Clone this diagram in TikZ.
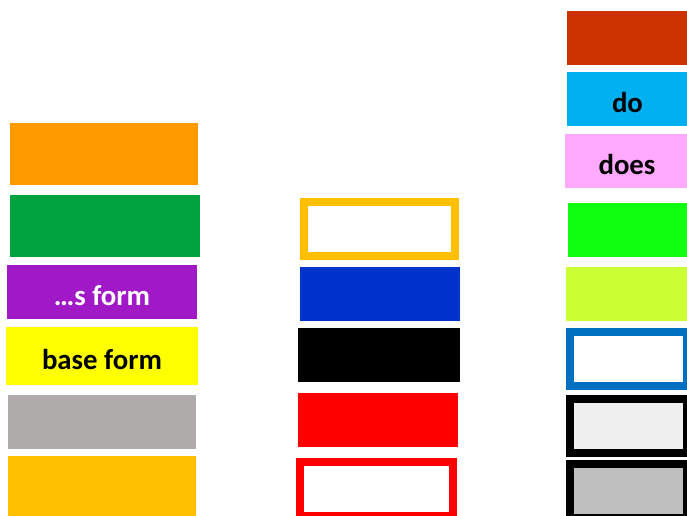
\documentclass[tikz,border=0pt]{standalone}
\usepackage{fontspec}
\setmainfont{Carlito}
\definecolor{cOrange}{HTML}{FF9900}
\definecolor{cGreen}{HTML}{00A33D}
\definecolor{cPurple}{HTML}{A118C6}
\definecolor{cYellow}{HTML}{FFFF00}
\definecolor{cGray}{HTML}{AFABAB}
\definecolor{cGold}{HTML}{FFC000}
\definecolor{cBlue}{HTML}{0033CC}
\definecolor{cRed}{HTML}{FF0000}
\definecolor{cRust}{HTML}{CC3300}
\definecolor{cCyan}{HTML}{00B0F0}
\definecolor{cPink}{HTML}{FFA9FF}
\definecolor{cLime}{HTML}{10FF10}
\definecolor{cChart}{HTML}{CCFF33}
\definecolor{cSteel}{HTML}{0070C0}
\definecolor{cLight}{HTML}{F0F0F0}
\definecolor{cSilver}{HTML}{BFBFBF}
\usepackage{tikz}

\begin{document}
\begin{tikzpicture}[x=0.75pt,y=-0.75pt,
      slab/.style={rectangle, inner sep=0pt, outer sep=0pt, draw=none,
                   text height=22pt, text depth=2pt,
                   font=\fontsize{21.6}{24}\selectfont\bfseries},
      frame/.style={slab, draw=#1, line width=6pt}
  ]
    \useasboundingbox (0,0) rectangle (687,516);
    % left column
    \node[slab, fill=cOrange, minimum width=141pt, minimum height=46.5pt] (l1) at (104,154) {};
    \node[slab, fill=cGreen, minimum width=142.5pt, minimum height=46.5pt] (l2) at (105,226) {};
    \node[slab, fill=cPurple, text=white, minimum width=142.5pt, minimum height=40.5pt] (sform) at (102,292) {…s form};
    \node[slab, fill=cYellow, minimum width=144pt, minimum height=43.5pt] (base) at (102,356) {base form};
    \node[slab, fill=cGray, minimum width=141pt, minimum height=40.5pt] (l5) at (102,422) {};
    \node[slab, fill=cGold, minimum width=141pt, minimum height=45pt] (l6) at (102,486) {};
    % middle column
    \node[frame=cGold, fill=white, minimum width=113.25pt, minimum height=40.5pt] (m1) at (379.5,229) {};
    \node[slab, fill=cBlue, minimum width=120pt, minimum height=40.5pt] (m2) at (380,294) {};
    \node[slab, fill=black, minimum width=121.5pt, minimum height=40.5pt] (m3) at (379,355) {};
    \node[slab, fill=cRed, minimum width=120pt, minimum height=40.5pt] (m4) at (378,420) {};
    \node[frame=cRed, fill=white, minimum width=114.75pt, minimum height=40.5pt] (m5) at (376.5,489) {};
    % right column
    \node[slab, fill=cRust, minimum width=90.75pt, minimum height=40.5pt] (r1) at (627.5,38) {};
    \node[slab, fill=cCyan, minimum width=90.75pt, minimum height=40.5pt] (do) at (627.5,99) {do};
    \node[slab, fill=cPink, minimum width=93pt, minimum height=40.5pt] (does) at (627,161) {does};
    \node[slab, fill=cLime, minimum width=90pt, minimum height=40.5pt] (r4) at (628,230) {};
    \node[slab, fill=cChart, minimum width=91.5pt, minimum height=40.5pt] (r5) at (627,294) {};
    \node[frame=cSteel, fill=white, minimum width=87.75pt, minimum height=40.5pt] (r6) at (628.5,359) {};
    \node[frame=black, fill=cLight, minimum width=87.75pt, minimum height=40.5pt] (r7) at (628.5,426) {};
    \node[frame=black, fill=cSilver, minimum width=87.75pt, minimum height=40.5pt] (r8) at (628.5,491) {};
\end{tikzpicture}
\end{document}
